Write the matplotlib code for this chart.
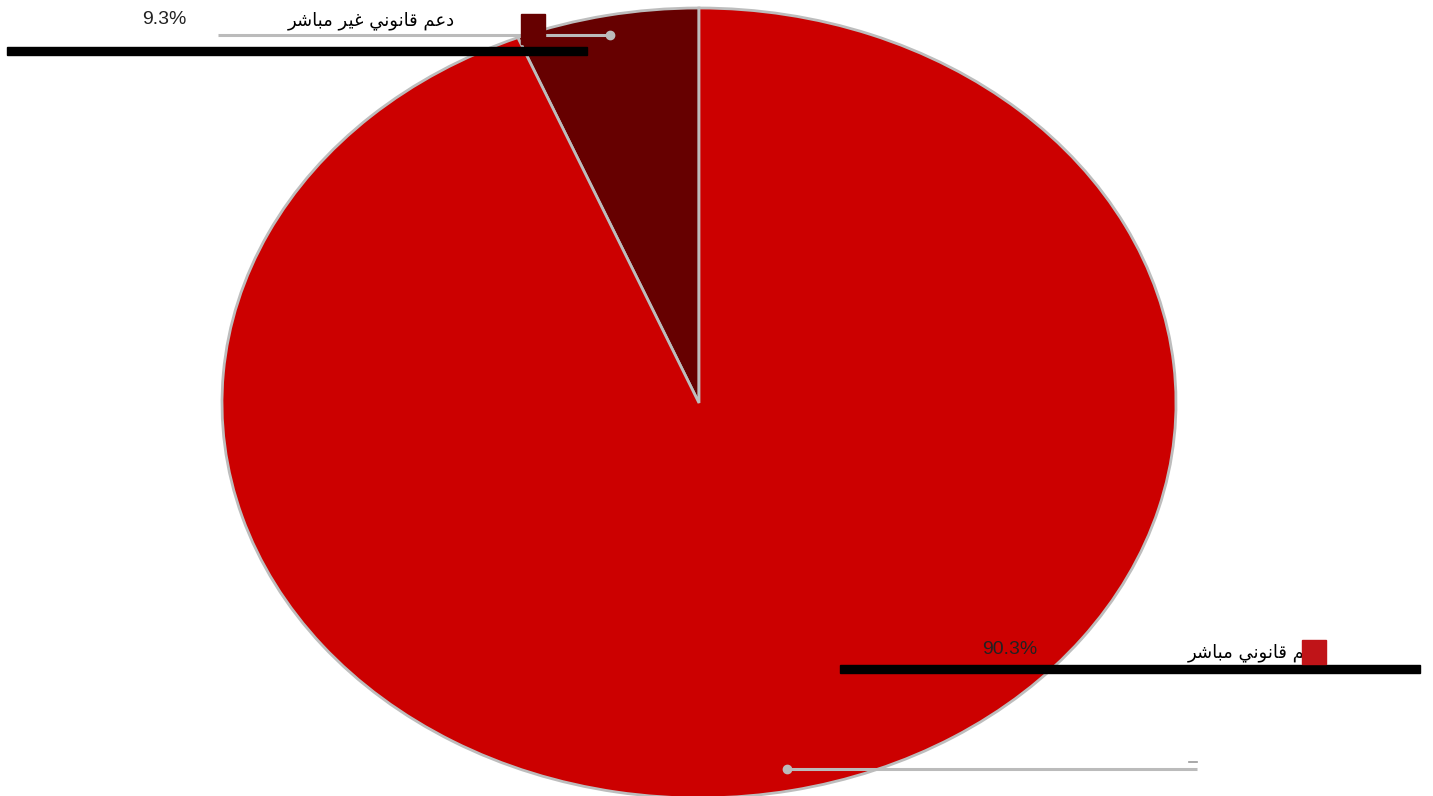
import matplotlib
matplotlib.use("Agg")
import matplotlib.pyplot as plt
from matplotlib.patches import Rectangle

# البيانات
categories = ["دعم قانوني غير مباشر", "دعم قانوني مباشر"]
pct_labels = ["9.3%", "90.3%"]
# حصص الشرائح كما تظهر في الرسم (زاوية الشريحة الداكنة)
shares = [6.2, 93.8]
colors = ["#660000", "#CC0000"]
legend_colors = ["#660000", "#C01418"]

W, H = 1433, 796

# تشكيل الحروف العربية يدويا (matplotlib لا يشكّل النص)
FORMS = {
    "ا": (0xFE8D, 0xFE8E, None, None),
    "ب": (0xFE8F, 0xFE90, 0xFE91, 0xFE92),
    "د": (0xFEA9, 0xFEAA, None, None),
    "ر": (0xFEAD, 0xFEAE, None, None),
    "ش": (0xFEB5, 0xFEB6, 0xFEB7, 0xFEB8),
    "ع": (0xFEC9, 0xFECA, 0xFECB, 0xFECC),
    "غ": (0xFECD, 0xFECE, 0xFECF, 0xFED0),
    "ق": (0xFED5, 0xFED6, 0xFED7, 0xFED8),
    "م": (0xFEE1, 0xFEE2, 0xFEE3, 0xFEE4),
    "ن": (0xFEE5, 0xFEE6, 0xFEE7, 0xFEE8),
    "و": (0xFEED, 0xFEEE, None, None),
    "ي": (0xFEF1, 0xFEF2, 0xFEF3, 0xFEF4),
}


def shape(text):
    out = []
    for i, c in enumerate(text):
        if c not in FORMS:
            out.append(c)
            continue
        prev = text[i - 1] if i > 0 else ""
        nxt = text[i + 1] if i + 1 < len(text) else ""
        join_prev = prev in FORMS and FORMS[prev][2] is not None
        join_next = nxt in FORMS and FORMS[c][2] is not None
        iso, fin, ini, med = FORMS[c]
        if join_prev and join_next:
            code = med
        elif join_prev:
            code = fin
        elif join_next:
            code = ini
        else:
            code = iso
        out.append(chr(code))
    return "".join(out)[::-1]


fig = plt.figure(figsize=(W / 100, H / 100), dpi=100)
fig.patch.set_facecolor("white")

# الدائرة (بيضاوية) في محور خاص
cx, cy, rx, ry = 699, 403, 477, 395
pie_ax = fig.add_axes([(cx - rx) / W, 1 - (cy + ry) / H, 2 * rx / W, 2 * ry / H])
pie_ax.pie(shares, colors=colors, startangle=90, counterclock=True,
           wedgeprops=dict(edgecolor="#BDBDBD", linewidth=2.0))
pie_ax.set_aspect("auto")
pie_ax.set_xlim(-1, 1)
pie_ax.set_ylim(-1, 1)
pie_ax.axis("off")

# طبقة علوية بإحداثيات البكسل
ov = fig.add_axes([0, 0, 1, 1])
ov.set_xlim(0, W)
ov.set_ylim(H, 0)
ov.axis("off")

# خطوط الدلالة الرمادية
ov.plot([218, 610], [35, 35], color="#BBBBBB", lw=2.2, solid_capstyle="butt")
ov.plot([610], [35], "o", color="#BBBBBB", ms=6)
ov.plot([787, 1197], [769, 769], color="#BBBBBB", lw=2.2, solid_capstyle="butt")
ov.plot([787], [769], "o", color="#BBBBBB", ms=6)
ov.plot([1189, 1197], [762, 762], color="#999999", lw=1.2)

# الخطوط السوداء
ov.add_patch(Rectangle((7, 47), 580, 8, color="black", zorder=3))
ov.add_patch(Rectangle((840, 665), 580, 8, color="black", zorder=3))

num_fam = ["Liberation Sans Narrow", "Liberation Sans", "DejaVu Sans"]

# التسميات
ov.text(187, 19, pct_labels[0], ha="right", va="center", fontsize=14,
        family=num_fam, color="#222222")
ov.text(455, 21, shape(categories[0]), ha="right", va="center", fontsize=13,
        family=["DejaVu Sans"], color="black")
ov.text(1037, 650, pct_labels[1], ha="right", va="center", fontsize=14,
        family=num_fam, color="#222222")
ov.text(1324, 653, shape(categories[1]), ha="right", va="center", fontsize=13,
        family=["DejaVu Sans"], color="black", zorder=2)

# مربعات وسيلة الإيضاح
ov.add_patch(Rectangle((521, 14), 24, 30, color=legend_colors[0], zorder=4))
ov.add_patch(Rectangle((1302, 640), 24, 24, color=legend_colors[1], zorder=4))

fig.savefig("out.png", dpi=100)
